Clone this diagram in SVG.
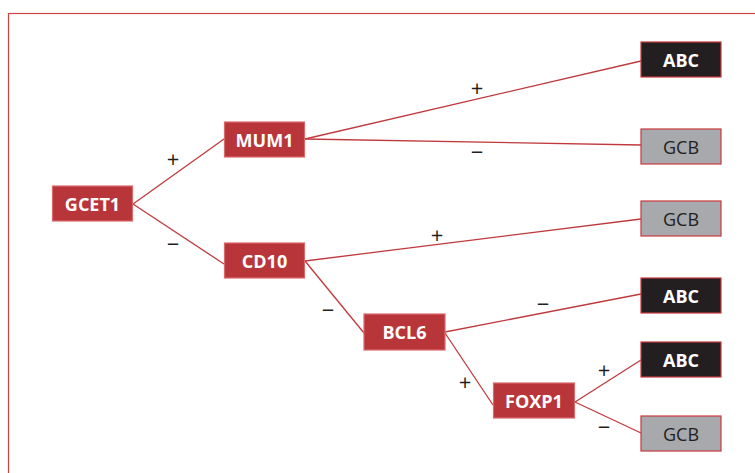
<svg xmlns="http://www.w3.org/2000/svg" width="755" height="473" viewBox="0 0 755 473">
<style>
.frame{fill:none;stroke:#cd4448;stroke-width:1.2}
.n rect{stroke-width:1.2}
.red rect{fill:#b8353a;stroke:#d9696c}
.abc rect{fill:#231f20;stroke:#c8393e}
.gcb rect{fill:#a7a9ac;stroke:#c8393e}
.n text{font-family:"Open Sans","Noto Sans",sans-serif;font-size:18px;text-anchor:middle;dominant-baseline:central}
.red text,.abc text{fill:#ffffff;font-weight:bold}
.gcb text{fill:#231f20}
.c line{stroke:#c0393d;stroke-width:1.3}
.s{font-family:"Open Sans","Noto Sans",sans-serif;font-size:22px;fill:#231f20;text-anchor:middle;dominant-baseline:central}
</style>
<rect class="frame" x="8.5" y="13.5" width="760" height="470"/>
<g class="c" id="connectors">
<line x1="133" y1="204" x2="224" y2="139"/>
<line x1="133" y1="204" x2="224" y2="264"/>
<line x1="305" y1="139" x2="641" y2="61"/>
<line x1="305" y1="139" x2="641" y2="145"/>
<line x1="305" y1="261" x2="641" y2="219"/>
<line x1="305" y1="261" x2="364" y2="333"/>
<line x1="445" y1="332" x2="641" y2="294"/>
<line x1="445" y1="333" x2="493" y2="405"/>
<line x1="575" y1="402" x2="641" y2="360"/>
<line x1="575" y1="402" x2="641" y2="433"/>
</g>
<g id="signs">
<text class="s" x="173" y="158">+</text>
<text class="s" x="173" y="243">−</text>
<text class="s" x="477" y="87">+</text>
<text class="s" x="477" y="151">−</text>
<text class="s" x="437" y="234">+</text>
<text class="s" x="328" y="309">−</text>
<text class="s" x="543" y="303">−</text>
<text class="s" x="465" y="381">+</text>
<text class="s" x="604" y="369">+</text>
<text class="s" x="604" y="426">−</text>
</g>
<g id="GCET1" class="n red"><rect x="52.5" y="186" width="80" height="35"/><text x="92.5" y="203.5">GCET1</text></g>
<g id="MUM1" class="n red"><rect x="224.5" y="122" width="80" height="35"/><text x="264.5" y="139.5">MUM1</text></g>
<g id="CD10" class="n red"><rect x="224.5" y="243" width="80" height="35"/><text x="264.5" y="260.5">CD10</text></g>
<g id="BCL6" class="n red"><rect x="364" y="314" width="81" height="36"/><text x="404.5" y="332">BCL6</text></g>
<g id="FOXP1" class="n red"><rect x="493.5" y="383" width="81" height="35"/><text x="534" y="400.5">FOXP1</text></g>
<g id="ABC1" class="n abc"><rect x="641" y="42" width="80" height="35"/><text x="681" y="59.5">ABC</text></g>
<g id="GCB1" class="n gcb"><rect x="641" y="129" width="80" height="35"/><text x="681" y="146.5">GCB</text></g>
<g id="GCB2" class="n gcb"><rect x="641" y="201" width="80" height="35"/><text x="681" y="218.5">GCB</text></g>
<g id="ABC2" class="n abc"><rect x="641" y="278" width="80" height="35"/><text x="681" y="295.5">ABC</text></g>
<g id="ABC3" class="n abc"><rect x="641" y="342" width="80" height="35"/><text x="681" y="359.5">ABC</text></g>
<g id="GCB3" class="n gcb"><rect x="641" y="416" width="80" height="35"/><text x="681" y="433.5">GCB</text></g>
</svg>
